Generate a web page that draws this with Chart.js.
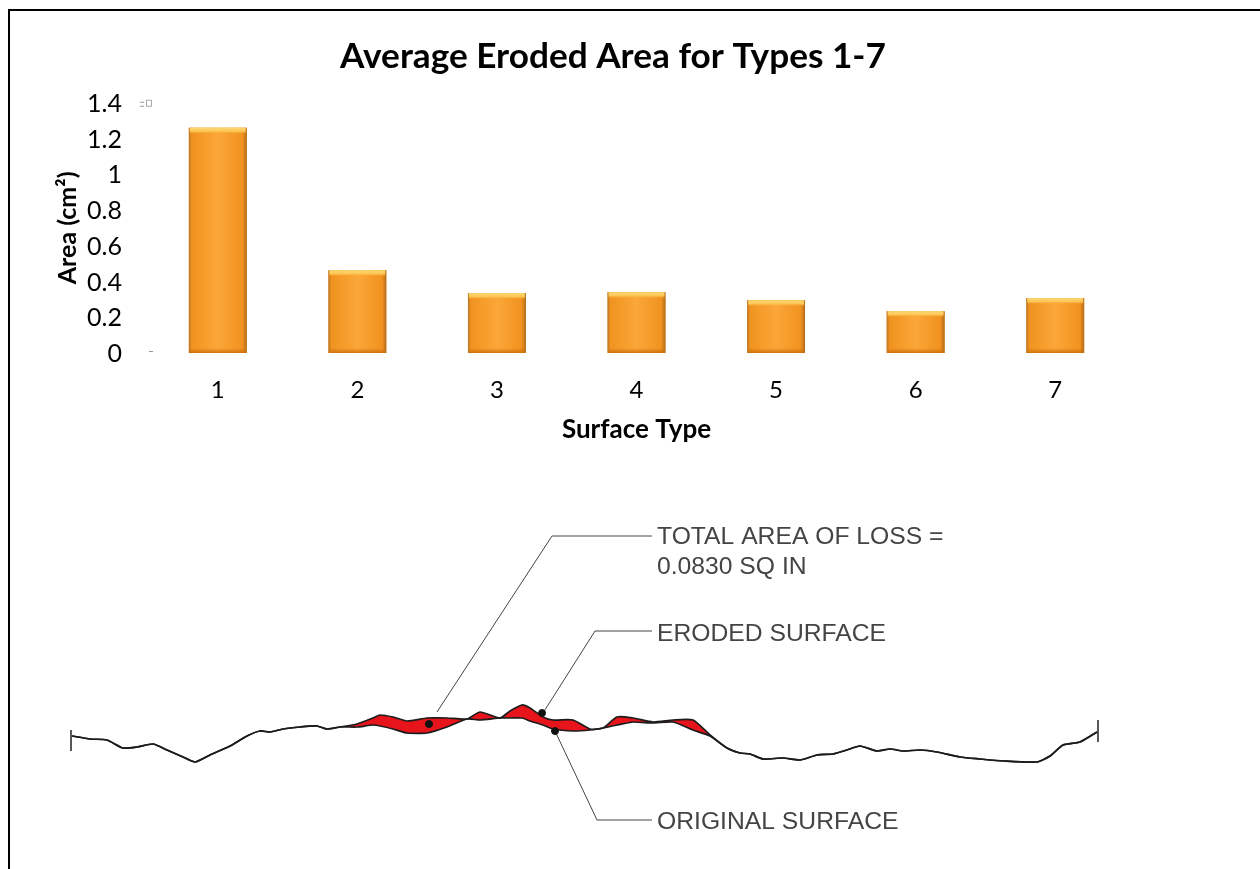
<!DOCTYPE html>
<html>
<head>
<meta charset="utf-8">
<title>Average Eroded Area</title>
<script src="https://cdn.jsdelivr.net/npm/chart.js@4"></script>
<style>
  html, body { margin: 0; background: #fff; overflow: hidden; }
  #page { position: relative; width: 1260px; height: 869px; overflow: hidden; }
  #frame { position: absolute; left: 8px; top: 9px; width: 1300px; height: 900px; border: 2px solid #000; box-sizing: border-box; }
  #barWrap { position: absolute; left: 12px; top: 13px; width: 1202px; height: 440px; }
  #surfaceWrap { position: absolute; left: 12px; top: 480px; width: 1240px; height: 385px; }
</style>
</head>
<body>
<div id="page">
  <div id="frame"></div>
  <div id="barWrap"><canvas id="barChart"></canvas></div>
  <div id="surfaceWrap"><canvas id="surfaceChart"></canvas></div>
</div>
<script>
const surfaceTypes = ['1', '2', '3', '4', '5', '6', '7'];
const erodedArea = [1.26, 0.463, 0.335, 0.34, 0.295, 0.234, 0.307];
const areaTicks = [0, 0.2, 0.4, 0.6, 0.8, 1, 1.2, 1.4];

// surface trace, same x list for both lines
const profileX = [72, 90, 107, 123, 137, 153, 167, 183, 195, 210, 230, 247, 260, 270, 283, 300, 317, 327,
  340, 357, 373, 380, 393, 407, 427, 447, 467, 480, 500, 510, 522, 530, 543, 553, 573, 590, 603, 617, 633, 653, 673, 693, 710, 727, 740,
  750, 763, 783, 800, 817, 833, 847, 860, 877, 890, 903, 920, 937, 960, 980, 1003, 1037, 1050, 1063, 1080, 1097];
const upperY = [736, 739, 740, 748, 747, 744, 750, 757, 762, 755, 746, 736, 731, 732, 729, 727, 726, 729,
  727, 724, 718, 715, 717, 721, 718, 718, 719, 712, 718, 711, 705, 708, 717, 720, 720, 729, 728, 717, 718, 722, 720, 720, 735, 748, 753,
  754, 759, 758, 760, 755, 754, 750, 746, 751, 749, 751, 750, 752, 757, 759, 761, 762, 756, 745, 742, 732];
const lowerY = [736, 739, 740, 748, 747, 744, 750, 757, 762, 755, 746, 736, 731, 732, 729, 727, 726, 729,
  727, 727, 725, 726, 729, 733, 733, 727, 719, 720, 718, 718, 718, 721, 725, 729, 731, 730, 728, 725, 722, 723, 722, 730, 736, 748, 753,
  754, 759, 758, 760, 755, 754, 750, 746, 751, 749, 751, 750, 752, 757, 759, 761, 762, 756, 745, 742, 732];

const leftCapX = [71, 71];
const leftCapY = [730, 751];
const rightCapX = [1098, 1098];
const rightCapY = [720, 742];
const lossLeaderX = [437, 552, 652];
const lossLeaderY = [712, 536, 536];
const erodedLeaderX = [543, 595, 652];
const erodedLeaderY = [713, 631, 631];
const originalLeaderX = [555, 597, 652];
const originalLeaderY = [731, 820, 820];
const markerX = [429, 542, 555];
const markerY = [724, 713, 731];

const noteTexts = ['TOTAL AREA OF LOSS =', '0.0830 SQ IN', 'ERODED SURFACE', 'ORIGINAL SURFACE'];
const noteX = [657, 657, 657, 657];
const noteY = [537, 567, 634, 822];

function toPoints(xs, ys) {
  return xs.map((x, i) => ({ x: x, y: ys[i] }));
}

// bar shading and the little marks beside the axis
const barDetails = {
  id: 'barDetails',
  afterDatasetsDraw(chart) {
    const { ctx, scales, chartArea } = chart;
    ctx.save();
    chart.getDatasetMeta(0).data.forEach((bar) => {
      const left = bar.x - bar.width / 2;
      const side = ctx.createLinearGradient(left, 0, left + bar.width, 0);
      side.addColorStop(0, '#b8752a');
      side.addColorStop(0.05, '#f0931f');
      side.addColorStop(0.5, '#fba739');
      side.addColorStop(0.93, '#f0921f');
      side.addColorStop(1, '#b06a1c');
      ctx.fillStyle = side;
      ctx.fillRect(left, bar.y, bar.width, bar.base - bar.y);
      const top = ctx.createLinearGradient(0, bar.y, 0, bar.y + 6);
      top.addColorStop(0, '#fbd873');
      top.addColorStop(0.6, '#fcc654');
      top.addColorStop(1, 'rgba(251,167,57,0)');
      ctx.fillStyle = top;
      ctx.fillRect(left + 1, bar.y, bar.width - 2, 6);
      const low = ctx.createLinearGradient(0, bar.base - 5, 0, bar.base);
      low.addColorStop(0, 'rgba(205,110,10,0)');
      low.addColorStop(1, 'rgba(205,110,10,0.9)');
      ctx.fillStyle = low;
      ctx.fillRect(left + 1, bar.base - 5, bar.width - 2, 5);
    });
    const y0 = scales.y.getPixelForValue(0);
    const yTop = scales.y.getPixelForValue(1.4);
    const ax = chartArea.left;
    ctx.fillStyle = '#999';
    ctx.fillRect(ax + 1, y0 - 2, 4, 1);
    ctx.fillRect(ax - 8, yTop - 1, 4, 1);
    ctx.fillRect(ax - 8, yTop + 3, 4, 1);
    ctx.strokeStyle = '#aaa';
    ctx.strokeRect(ax - 1.5, yTop - 2.5, 5, 6);
    ctx.restore();
  }
};

const noteLabels = {
  id: 'noteLabels',
  afterDatasetsDraw(chart) {
    const { ctx, scales } = chart;
    ctx.save();
    ctx.font = '24.7px "Liberation Sans"';
    ctx.fillStyle = '#444';
    ctx.textBaseline = 'middle';
    noteTexts.forEach((text, i) => {
      ctx.fillText(text, scales.x.getPixelForValue(noteX[i]), scales.y.getPixelForValue(noteY[i]));
    });
    ctx.restore();
  }
};

function initBarChart(target) {
  return new Chart(target, {
    type: 'bar',
    data: {
      labels: surfaceTypes,
      datasets: [{
        data: erodedArea,
        backgroundColor: '#f39c2e',
        categoryPercentage: 0.415,
        barPercentage: 1
      }]
    },
    plugins: [barDetails],
    options: {
      responsive: true,
      maintainAspectRatio: false,
      animation: false,
      layout: { padding: 0 },
      plugins: {
        legend: { display: false },
        tooltip: { enabled: false },
        title: {
          display: true,
          text: 'Average Eroded Area for Types 1-7',
          color: '#000',
          font: { family: 'Lato', size: 35.2, weight: 'bold' },
          padding: { top: 23, bottom: 24.5 }
        }
      },
      scales: {
        x: {
          afterFit(axis) { axis.height = 100; },
          grid: { display: false, drawTicks: false },
          border: { display: false },
          ticks: { color: '#000', font: { family: 'Lato', size: 24 }, padding: 23 },
          title: { display: true, text: 'Surface Type', color: '#000', font: { family: 'Lato', size: 26, weight: 'bold' }, padding: { top: 0, bottom: 8 } }
        },
        y: {
          min: 0,
          max: 1.4,
          afterFit(axis) { axis.width = 136; },
          afterBuildTicks(axis) {
            axis.ticks = areaTicks.map((v) => ({ value: v }));
          },
          grid: { display: false, drawTicks: false },
          border: { display: false },
          ticks: { color: '#000', font: { family: 'Lato', size: 25 }, padding: 26, autoSkip: false, labelOffset: 1, callback: (v) => String(v) },
          title: { display: true, text: 'Area (cm²)', color: '#000', font: { family: 'Lato', size: 25, weight: 'bold' }, padding: { top: 41, bottom: 0 } }
        },
        // empty axis, only holds the space right of the bars so the title stays centred
        spacer: {
          position: 'right',
          afterFit(axis) { axis.width = 89; },
          grid: { display: false, drawTicks: false },
          border: { display: false },
          ticks: { display: false }
        }
      }
    }
  });
}

function lineSet(xs, ys, color, width, tension) {
  return {
    data: toPoints(xs, ys),
    showLine: true,
    borderColor: color,
    borderWidth: width,
    pointRadius: 0,
    fill: false,
    tension: tension || 0
  };
}

function initSurfaceChart(target) {
  const upper = lineSet(profileX, upperY, '#1c1c1c', 1.7, 0.2);
  const lower = lineSet(profileX, lowerY, '#1c1c1c', 1.7, 0.2);
  lower.fill = { target: 0 };
  lower.backgroundColor = '#e8141c';
  return new Chart(target, {
    type: 'scatter',
    data: {
      datasets: [
        upper,
        lower,
        lineSet(leftCapX, leftCapY, '#222', 1.5),
        lineSet(rightCapX, rightCapY, '#222', 1.5),
        lineSet(lossLeaderX, lossLeaderY, '#444', 1),
        lineSet(erodedLeaderX, erodedLeaderY, '#444', 1),
        lineSet(originalLeaderX, originalLeaderY, '#444', 1),
        { data: toPoints(markerX, markerY), pointRadius: 3.5, backgroundColor: '#111', borderColor: '#111', order: -1 }
      ]
    },
    plugins: [noteLabels],
    options: {
      responsive: true,
      maintainAspectRatio: false,
      animation: false,
      layout: { padding: 0, autoPadding: false },
      plugins: { legend: { display: false }, tooltip: { enabled: false }, title: { display: false } },
      scales: {
        x: { type: 'linear', min: 12, max: 1252, display: false },
        y: { type: 'linear', min: 480, max: 865, reverse: true, display: false }
      }
    }
  });
}

document.addEventListener('DOMContentLoaded', () => {
  initBarChart(document.querySelector('#barChart'));
  initSurfaceChart(document.querySelector('#surfaceChart'));
});
</script>
</body>
</html>
